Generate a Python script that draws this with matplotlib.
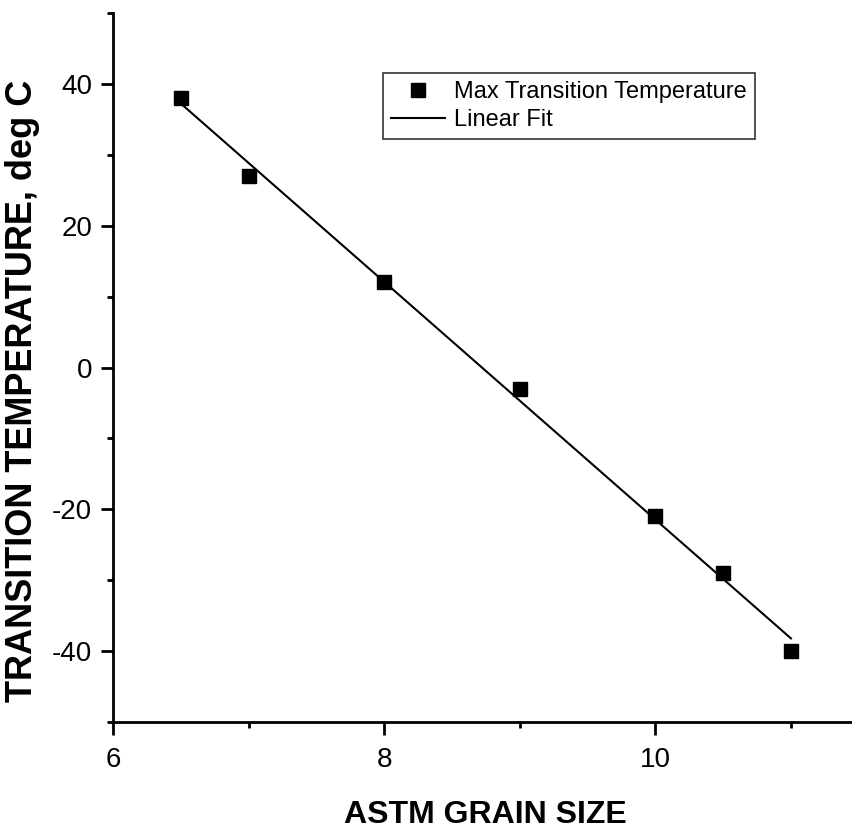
import numpy as np
import matplotlib
matplotlib.use("Agg")
import matplotlib.pyplot as plt
from matplotlib.ticker import MultipleLocator

plt.rcParams['font.family'] = ['Liberation Sans', 'DejaVu Sans']
plt.rcParams['axes.unicode_minus'] = False

# ASTM grain size vs. max transition temperature
grain_size = [6.5, 7.0, 8.0, 9.0, 10.0, 10.5, 11.0]
transition_temp = [38, 27, 12, -3, -21, -29, -40]

# least squares line through the points
slope, intercept = np.polyfit(grain_size, transition_temp, 1)
fit_x = np.array([min(grain_size), max(grain_size)])
fit_y = slope * fit_x + intercept

fig = plt.figure(figsize=(8.52, 8.34), dpi=100)
ax = fig.add_axes([0.1326, 0.1343, 0.8674, 0.8501])

ax.plot(grain_size, transition_temp, 's', color='black', markersize=9.5,
        label='Max Transition Temperature')
ax.plot(fit_x, fit_y, '-', color='black', linewidth=1.5, label='Linear Fit')

ax.set_xlim(6, 11.45)
ax.set_ylim(-50, 50)
ax.xaxis.set_major_locator(MultipleLocator(2))
ax.xaxis.set_minor_locator(MultipleLocator(1))
ax.yaxis.set_major_locator(MultipleLocator(20))
ax.yaxis.set_minor_locator(MultipleLocator(10))

for side in ['top', 'right']:
    ax.spines[side].set_visible(False)
for side in ['left', 'bottom']:
    ax.spines[side].set_linewidth(2)

ax.tick_params(which='major', direction='out', length=9, width=2, labelsize=20)
ax.tick_params(which='minor', direction='out', length=4.5, width=2)
ax.tick_params(axis='y', which='major', pad=6)
ax.tick_params(axis='x', which='major', pad=9)

fig.text(485 / 852, 1 - 815 / 834, 'ASTM GRAIN SIZE', fontsize=23,
         fontweight='bold', ha='center', va='center')
fig.text(23 / 852, 1 - 391 / 834, 'TRANSITION TEMPERATURE, deg C',
         fontsize=26, fontweight='bold', rotation=90, ha='center', va='center')

leg = ax.legend(loc='upper left', bbox_to_anchor=(0.365, 0.9154),
                borderaxespad=0, fontsize=17, frameon=True, fancybox=False,
                edgecolor='black', handlelength=2.3, handletextpad=0.35,
                borderpad=0.35, labelspacing=0.25)
leg.get_frame().set_linewidth(1.2)

fig.savefig('out.png', dpi=100)
